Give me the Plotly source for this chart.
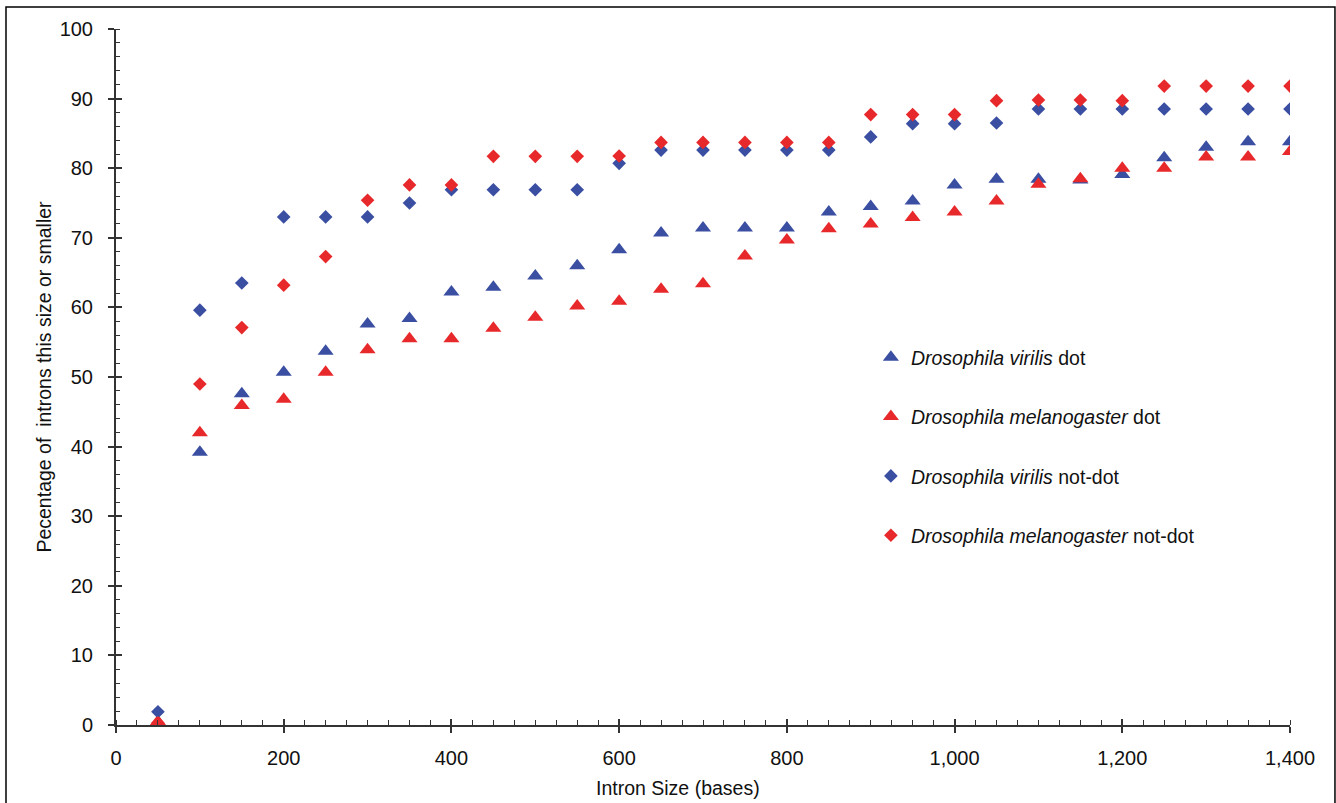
import plotly.graph_objects as go

intron_size = [50, 100, 150, 200, 250, 300, 350, 400, 450, 500, 550, 600, 650, 700,
               750, 800, 850, 900, 950, 1000, 1050, 1100, 1150, 1200, 1250, 1300, 1350, 1400]

virilis_dot = [0.0, 39.2, 47.6, 50.7, 53.7, 57.6, 58.4, 62.2, 62.9, 64.5, 66.0, 68.3, 70.7, 71.4,
               71.4, 71.4, 73.7, 74.5, 75.3, 77.6, 78.4, 78.4, 78.3, 79.1, 81.5, 83.0, 83.8, 83.8]
melanogaster_dot = [0.5, 42.0, 45.9, 46.8, 50.7, 53.9, 55.5, 55.5, 57.0, 58.6, 60.2, 60.9, 62.6, 63.4,
                    67.4, 69.7, 71.3, 72.0, 72.9, 73.7, 75.3, 77.7, 78.5, 80.0, 80.0, 81.6, 81.6, 82.4]
virilis_notdot = [1.9, 59.6, 63.5, 73.0, 73.0, 73.0, 75.0, 76.9, 76.9, 76.9, 76.9, 80.7, 82.6, 82.6,
                  82.6, 82.6, 82.6, 84.5, 86.4, 86.4, 86.5, 88.5, 88.5, 88.5, 88.5, 88.5, 88.5, 88.5]
melanogaster_notdot = [0.3, 49.0, 57.1, 63.2, 67.3, 75.4, 77.6, 77.6, 81.7, 81.7, 81.7, 81.75, 83.7, 83.7,
                       83.7, 83.7, 83.7, 87.7, 87.7, 87.7, 89.7, 89.8, 89.8, 89.7, 91.8, 91.8, 91.8, 91.8]

x_ticks = [0, 200, 400, 600, 800, 1000, 1200, 1400]
x_tick_labels = ["0", "200", "400", "600", "800", "1,000", "1,200", "1,400"]
y_ticks = [0, 10, 20, 30, 40, 50, 60, 70, 80, 90, 100]

BLUE = "#3a4ea2"
RED = "#e8292b"
FONT = "Liberation Sans, Arial, Helvetica, sans-serif"

series = [
    ("<i>Drosophila virilis</i> dot", virilis_dot, "triangle-up", BLUE),
    ("<i>Drosophila melanogaster</i> dot", melanogaster_dot, "triangle-up", RED),
    ("<i>Drosophila virilis</i> not-dot", virilis_notdot, "diamond", BLUE),
    ("<i>Drosophila melanogaster</i> not-dot", melanogaster_notdot, "diamond", RED),
]

fig = go.Figure()
for i, (name, vals, sym, col) in enumerate(series):
    fig.add_trace(go.Scatter(
        x=intron_size, y=vals, mode="markers", name=name, legendgroup=f"g{i}",
        marker=dict(symbol=sym, color=col, size=14 if sym == "triangle-up" else 10.5,
                    line=dict(width=0)),
    ))

# dummy trace to render overlay axes carrying the inner half of the crossing major ticks
fig.add_trace(go.Scatter(x=[None], y=[None], xaxis="x2", yaxis="y2", showlegend=False,
                         hoverinfo="skip"))

axis_col = "#333333"
fig.update_layout(
    width=1336, height=803,
    margin=dict(l=116, r=46, t=29, b=78, autoexpand=False),
    paper_bgcolor="white", plot_bgcolor="white",
    font=dict(family=FONT, size=19, color="#111111"),
    showlegend=True,
    legend=dict(x=0.643, y=0.556, xanchor="left", yanchor="top",
                font=dict(family=FONT, size=19.5, color="#111111"),
                tracegroupgap=31, itemwidth=30, bgcolor="rgba(0,0,0,0)"),
    xaxis=dict(range=[0, 1400], tickmode="array", tickvals=x_ticks, ticktext=x_tick_labels,
               automargin=False,
               showgrid=False, zeroline=False, showline=True, linecolor=axis_col, linewidth=2,
               ticks="outside", ticklen=6, tickwidth=1.5, tickcolor=axis_col,
               ticklabelstandoff=8, tickfont=dict(size=20),
               minor=dict(dtick=25, ticks="inside", ticklen=5, tickwidth=1.2, tickcolor=axis_col)),
    yaxis=dict(range=[0, 100], tickmode="array", tickvals=y_ticks, automargin=False,
               showgrid=False, zeroline=False, showline=True, linecolor=axis_col, linewidth=2,
               ticks="outside", ticklen=6, tickwidth=1.5, tickcolor=axis_col,
               ticklabelstandoff=11, tickfont=dict(size=20),
               minor=dict(dtick=2, ticks="inside", ticklen=4, tickwidth=1.2, tickcolor=axis_col),
               title=dict(text="Pecentage of &nbsp;introns this size or smaller", font=dict(size=19.5),
                          standoff=3)),
    xaxis2=dict(range=[0, 1400], overlaying="x", anchor="y", side="bottom", tickmode="array",
                tickvals=x_ticks, showticklabels=False, showgrid=False, zeroline=False,
                showline=False, ticks="inside", ticklen=6, tickwidth=1.5, tickcolor=axis_col),
    yaxis2=dict(range=[0, 100], overlaying="y", anchor="x", side="left", tickmode="array",
                tickvals=y_ticks, showticklabels=False, showgrid=False, zeroline=False,
                showline=False, ticks="inside", ticklen=6, tickwidth=1.5, tickcolor=axis_col),
    annotations=[dict(text="Intron Size (bases)", xref="paper", yref="paper",
                      x=0.479, y=-0.0905, xanchor="center", yanchor="middle",
                      showarrow=False, font=dict(family=FONT, size=19.5, color="#111111"))],
    shapes=[dict(type="rect", xref="paper", yref="paper",
                 x0=-0.0937, x1=1.0383, y0=-0.2, y1=1.0316,
                 line=dict(color="black", width=1.5), fillcolor="rgba(0,0,0,0)", layer="below")],
)

fig.write_html("out.html", config={"displayModeBar": False},
               post_script="document.body.style.margin='0';document.body.style.overflow='hidden';")
